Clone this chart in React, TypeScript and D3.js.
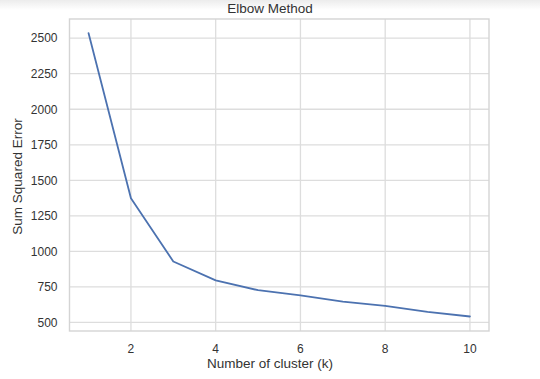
import React from "react";
import * as d3 from "d3";

const kValues = [1, 2, 3, 4, 5, 6, 7, 8, 9, 10];
const sseValues = [2535, 1374, 929, 796, 727, 690, 646, 617, 574, 542];
const xTicks = [2, 4, 6, 8, 10];
const yTicks = [500, 750, 1000, 1250, 1500, 1750, 2000, 2250, 2500];
const title = "Elbow Method";
const xLabel = "Number of cluster (k)";
const yLabel = "Sum Squared Error";

const W = 540;
const H = 379;
const left = 69.5;
const right = 489;
const top = 19;
const bottom = 331;

export default function App() {
  const x = d3.scaleLinear().domain([0.55, 10.45]).range([left, right]);
  const y = d3.scaleLinear().domain([440, 2635]).range([bottom, top]);
  const line = d3
    .line<number>()
    .x((_, i) => x(kValues[i]))
    .y((d) => y(d));
  const font = "'Liberation Sans', Arial, sans-serif";
  const grid = "#dddddd";
  return (
    <svg
      width={W}
      height={H}
      style={{ position: "absolute", left: 0, top: 0, background: "#fff" }}
    >
      <defs>
        <linearGradient id="shade" x1="0" y1="0" x2="0" y2="1">
          <stop offset="0" stopColor="#ececec" />
          <stop offset="1" stopColor="#ffffff" />
        </linearGradient>
      </defs>
      <rect x={0} y={0} width={W} height={H} fill="#fff" />
      <rect x={0} y={0} width={W} height={10} fill="url(#shade)" />
      <text
        x={270}
        y={12.5}
        textAnchor="middle"
        fontFamily={font}
        fontSize={13.5}
        fill="#333"
      >
        {title}
      </text>
      {yTicks.map((t) => (
        <g key={"y" + t}>
          <line x1={left} x2={right} y1={y(t)} y2={y(t)} stroke={grid} strokeWidth={1.3} />
          <text
            x={57.5}
            y={y(t) + 4.3}
            textAnchor="end"
            fontFamily={font}
            fontSize={12}
            fill="#333"
          >
            {t}
          </text>
        </g>
      ))}
      {xTicks.map((t) => (
        <g key={"x" + t}>
          <line x1={x(t)} x2={x(t)} y1={top} y2={bottom} stroke={grid} strokeWidth={1.3} />
          <text
            x={x(t)}
            y={352.5}
            textAnchor="middle"
            fontFamily={font}
            fontSize={12}
            fill="#333"
          >
            {t}
          </text>
        </g>
      ))}
      <rect
        x={left}
        y={top}
        width={right - left}
        height={bottom - top}
        fill="none"
        stroke="#d4d4d4"
        strokeWidth={1.4}
      />
      <path
        d={line(sseValues) || ""}
        fill="none"
        stroke="#4c72b0"
        strokeWidth={1.8}
        strokeLinejoin="round"
        strokeLinecap="round"
      />
      <text
        x={270}
        y={368}
        textAnchor="middle"
        fontFamily={font}
        fontSize={13.5}
        fill="#333"
      >
        {xLabel}
      </text>
      <text
        transform={`translate(22,${176.5}) rotate(-90)`}
        textAnchor="middle"
        fontFamily={font}
        fontSize={13.5}
        fill="#333"
      >
        {yLabel}
      </text>
    </svg>
  );
}
